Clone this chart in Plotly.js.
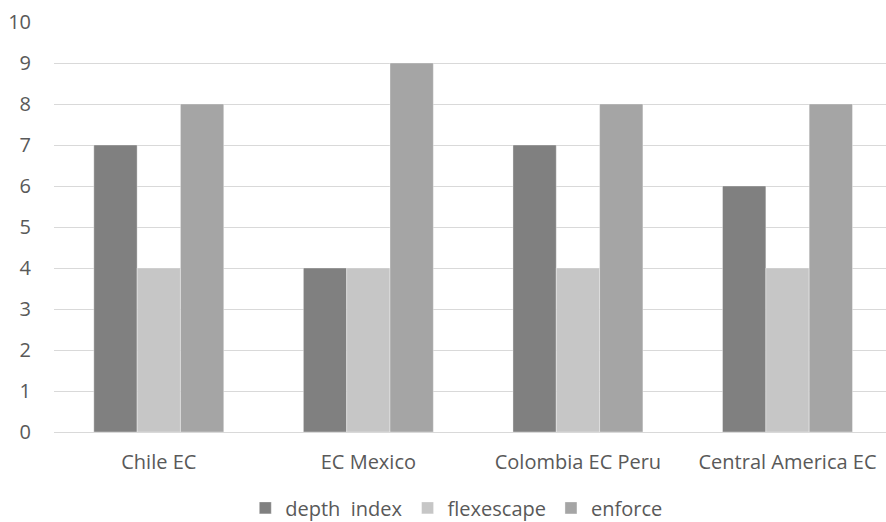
<!DOCTYPE html>
<html>
<head>
<meta charset="utf-8">
<script src="https://cdn.plot.ly/plotly-3.0.1.min.js"></script>
<style>
  html, body { margin: 0; padding: 0; background: #fff; }
  #chart { width: 886px; height: 522px; }
</style>
</head>
<body>
<div id="chart"></div>
<script>
// Agreement groups and their scores
const categories = ["Chile EC", "EC Mexico", "Colombia EC Peru", "Central America EC"];
const depthIndex = [7, 4, 7, 6];
const flexescape = [4, 4, 4, 4];
const enforce = [8, 9, 8, 8];
const yTicks = [0, 1, 2, 3, 4, 5, 6, 7, 8, 9, 10];

const font = "'Open Sans', Lato, 'DejaVu Sans', sans-serif";
const textColor = "#595959";

function barTrace(name, values, color) {
  return {
    type: "bar",
    name: name,
    x: categories,
    y: values,
    marker: { color: color, line: { color: "rgba(255,255,255,0.35)", width: 1 } },
    hoverinfo: "x+y+name"
  };
}

const data = [
  barTrace("depth\u00a0\u00a0index", depthIndex, "#808080"),
  barTrace("flexescape", flexescape, "#c6c6c6"),
  barTrace("enforce", enforce, "#a5a5a5")
];

const layout = {
  width: 886,
  height: 522,
  margin: { l: 54, r: 0, t: 22, b: 90, autoexpand: false },
  paper_bgcolor: "#ffffff",
  plot_bgcolor: "#ffffff",
  barmode: "group",
  bargap: 0.38,
  bargroupgap: 0,
  font: { family: font, color: textColor, size: 20 },
  xaxis: {
    type: "category",
    range: [-0.5, 3.47],
    automargin: false,
    showgrid: false,
    showline: false,
    zeroline: false,
    ticks: "",
    tickfont: { family: font, size: 20, color: textColor },
    ticklabelstandoff: 16
  },
  yaxis: {
    range: [0, 10],
    automargin: false,
    tickvals: yTicks,
    ticktext: yTicks.map(String),
    showgrid: true,
    gridcolor: "#d9d9d9",
    gridwidth: 1,
    zeroline: true,
    zerolinecolor: "#d9d9d9",
    zerolinewidth: 1,
    showline: false,
    ticks: "",
    ticklabelstandoff: 22,
    tickfont: { family: font, size: 20, color: textColor }
  },
  showlegend: true,
  legend: {
    orientation: "h",
    x: 0.515,
    xanchor: "center",
    xref: "container",
    y: 0.027,
    yanchor: "middle",
    yref: "container",
    font: { family: font, size: 20, color: textColor },
    itemwidth: 30,
    traceorder: "normal"
  }
};

Plotly.newPlot("chart", data, layout, { displayModeBar: false, staticPlot: true });
</script>
</body>
</html>
